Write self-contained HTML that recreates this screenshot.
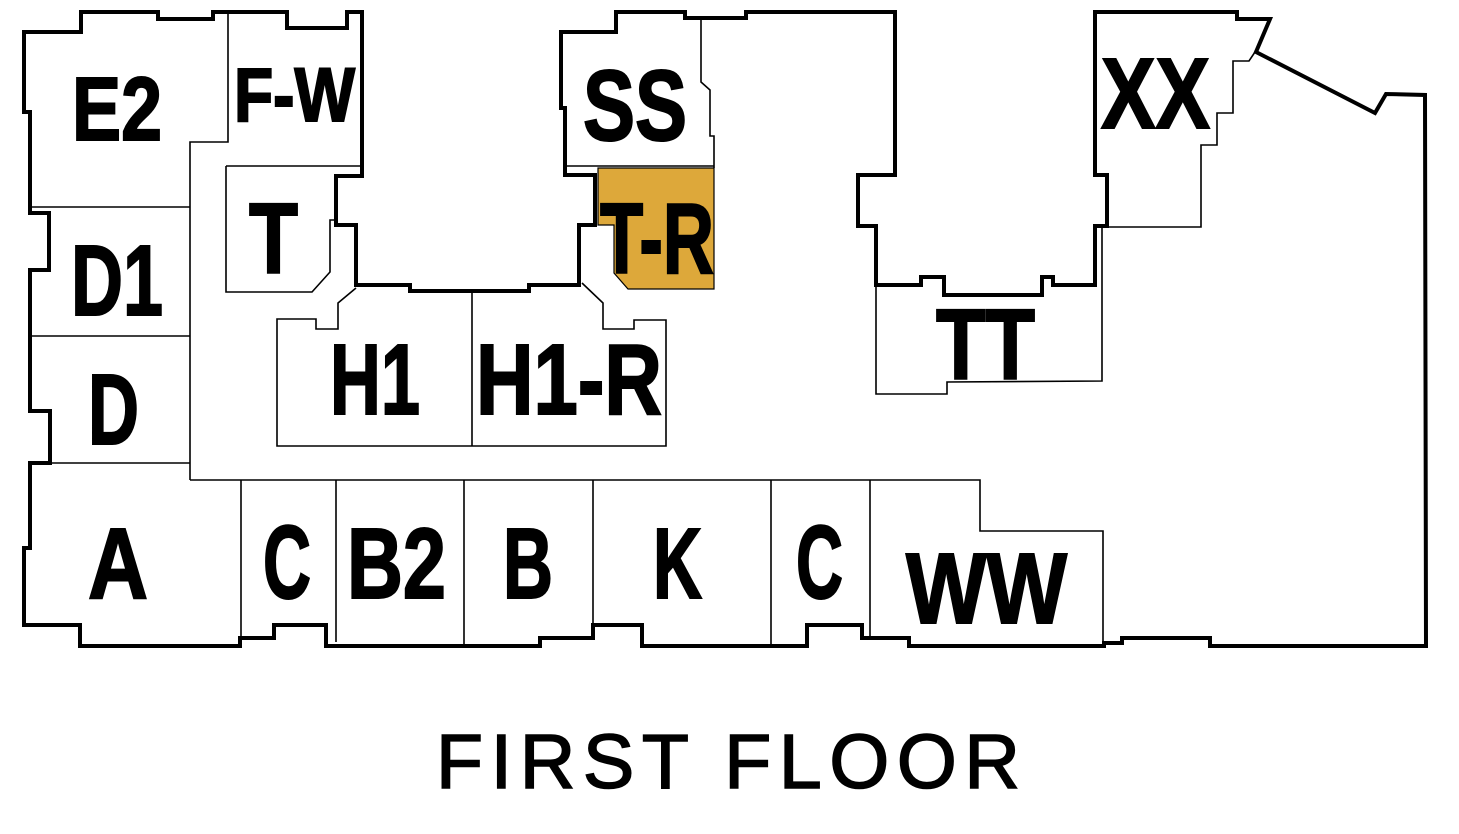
<!DOCTYPE html>
<html><head><meta charset="utf-8"><style>
html,body{margin:0;padding:0;background:#fff;}
svg{display:block;}
.lab{font-family:"Liberation Sans",sans-serif;font-weight:bold;fill:#000;stroke:#000;stroke-width:2;}
</style></head><body>
<svg width="1459" height="834" viewBox="0 0 1459 834" xmlns="http://www.w3.org/2000/svg">
<rect width="1459" height="834" fill="#fff"/>
<polygon points="598,168 714,168 714,289 628,289 614,273 614,225 598,225" fill="#DDA83A" stroke="#000" stroke-width="1.2"/>
<g fill="none" stroke="#000" stroke-width="1.6" stroke-linejoin="miter">
<line x1="30" y1="207" x2="190" y2="207"/>
<line x1="30" y1="336" x2="190" y2="336"/>
<line x1="50" y1="463" x2="190" y2="463"/>
<polyline points="190,480 190,142 228,142 228,12"/>
<line x1="226" y1="166" x2="362" y2="166"/>
<polyline points="226,166 226,292 312,292 330,272 330,220 336,220"/>
<polyline points="356,288 338,303 338,329 316,329 316,319 277,319 277,446 666,446 666,320 634,320 634,329 603,329 603,303 582,283"/>
<line x1="472" y1="291" x2="472" y2="446"/>
<line x1="565" y1="166" x2="714" y2="166"/>
<polyline points="701,18 701,82 710,90 710,136 714,136 714,168"/>
<polyline points="190,480 980,480 980,531 1103,531 1103,643"/>
<line x1="241" y1="480" x2="241" y2="638"/>
<line x1="336" y1="480" x2="336" y2="642"/>
<line x1="464" y1="480" x2="464" y2="644"/>
<line x1="593" y1="480" x2="593" y2="625"/>
<line x1="771" y1="480" x2="771" y2="644"/>
<line x1="870" y1="480" x2="870" y2="638"/>
<polyline points="1255,52 1249,61 1233,61 1233,113 1217,113 1217,145 1201,145 1201,227 1107,227"/>
<polyline points="876,285 876,394 947,394 947,382 1102,381 1102,227"/>
</g>
<polygon fill="none" stroke="#000" stroke-width="4" stroke-linejoin="miter" points="
24,32 81,32 81,12 158,12 158,19 213,19 213,12 287,12 287,28 347,28 347,12 362,12 362,176 336,176 336,225 356,225 356,285 410,285 410,291 529,291 529,285 579,285 579,225 595,225 595,175 565,175 565,108 561,108 561,32 616,32 616,12 685,12 685,18 746,18 746,12 895,12 895,175 858,175 858,226 876,226 876,285 921,285 921,277 944,277 944,295 1042,295 1042,277 1053,277 1053,285 1095,285 1095,226 1107,226 1107,175 1095,175 1095,12 1237,12 1237,19 1270,19 1256,52 1375,113 1386,94 1425,95 1426,646 1210,646 1210,638 1122,638 1122,643 1104,643 1104,646 909,646 909,638 862,638 862,625 807,625 807,646 642,646 642,625 593,625 593,638 540,638 540,646 326,646 326,625 274,625 274,638 240,638 240,646 80,646 80,625 24,625 24,548 30,548 30,463 50,463 50,411 30,411 30,270 49,270 49,213 30,213 30,207 30,112 24,112"/>
<g class="lab">
<text x="72" y="140" font-size="90" textLength="90" lengthAdjust="spacingAndGlyphs">E2</text>
<text x="234" y="121" font-size="76" textLength="121" lengthAdjust="spacingAndGlyphs">F-W</text>
<text x="583" y="140" font-size="100" textLength="104" lengthAdjust="spacingAndGlyphs">SS</text>
<text x="249" y="273" font-size="100" textLength="49" lengthAdjust="spacingAndGlyphs">T</text>
<text x="600" y="273" font-size="100" textLength="114" lengthAdjust="spacingAndGlyphs">T-R</text>
<text x="71" y="315" font-size="100" textLength="92" lengthAdjust="spacingAndGlyphs">D1</text>
<text x="1101" y="128" font-size="100" textLength="109" lengthAdjust="spacingAndGlyphs">XX</text>
<text x="330" y="414" font-size="100" textLength="90" lengthAdjust="spacingAndGlyphs">H1</text>
<text x="476" y="414" font-size="100" textLength="186" lengthAdjust="spacingAndGlyphs">H1-R</text>
<text x="88" y="444" font-size="100" textLength="51" lengthAdjust="spacingAndGlyphs">D</text>
<text x="936" y="379" font-size="100" textLength="99" lengthAdjust="spacingAndGlyphs">TT</text>
<text x="88" y="598" font-size="100" textLength="60" lengthAdjust="spacingAndGlyphs">A</text>
<text x="263" y="598" font-size="104" textLength="48" lengthAdjust="spacingAndGlyphs">C</text>
<text x="347" y="598" font-size="100" textLength="99" lengthAdjust="spacingAndGlyphs">B2</text>
<text x="503" y="598" font-size="100" textLength="50" lengthAdjust="spacingAndGlyphs">B</text>
<text x="653" y="598" font-size="100" textLength="49" lengthAdjust="spacingAndGlyphs">K</text>
<text x="796" y="598" font-size="104" textLength="47" lengthAdjust="spacingAndGlyphs">C</text>
<text x="906" y="623" font-size="100" textLength="161" lengthAdjust="spacingAndGlyphs">WW</text>
</g>
<text x="436" y="788" font-family="'Liberation Sans',sans-serif" font-size="77" fill="#000" stroke="#000" stroke-width="1.6" textLength="584" lengthAdjust="spacing">FIRST FLOOR</text>
</svg>
</body></html>
